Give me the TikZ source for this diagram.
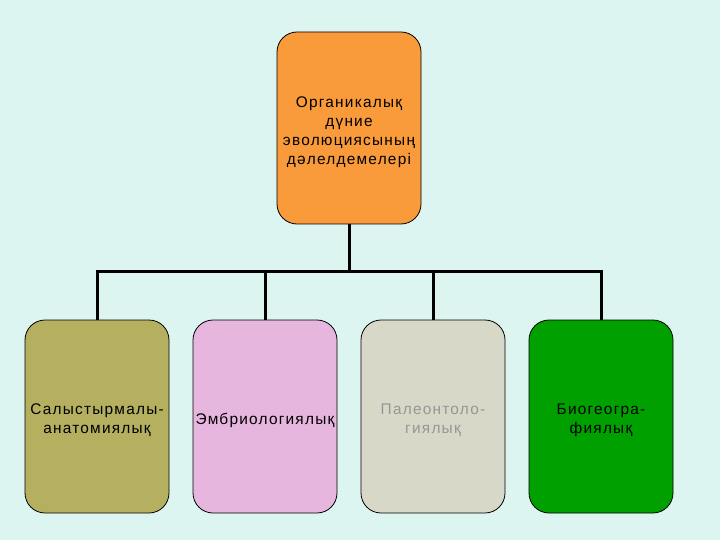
\documentclass[tikz,border=0pt]{standalone}
\usepackage{fontspec}
\setmainfont{Liberation Sans}[LetterSpace=8]
\begin{document}
\begin{tikzpicture}[x=1pt,y=-1pt,
  box/.style={draw=black,line width=0.8pt,rounded corners=20pt,minimum width=144pt,text width=142pt,align=center,font=\fontsize{15.4}{19}\selectfont,inner sep=1pt,execute at begin node={\rule{0pt}{19pt}}},
  conn/.style={line width=3pt}]
\fill[fill={rgb,255:red,221;green,245;blue,240}] (0,0) rectangle (720,540);
\useasboundingbox (0,0) rectangle (720,540);
\node[box,minimum height=192pt,fill={rgb,255:red,249;green,155;blue,58}] (top) at (349,128) {Органикалық\\дүние\\эволюциясының\\дәлелдемелері};
\node[box,minimum height=193pt,fill={rgb,255:red,181;green,176;blue,96}] (b1) at (97,416.5) {Салыстырмалы-\\анатомиялық};
\node[box,minimum height=193pt,fill={rgb,255:red,230;green,182;blue,223}] (b2) at (265,416.5) {Эмбриологиялық};
\node[box,minimum height=193pt,fill={rgb,255:red,216;green,216;blue,200},text={rgb,255:red,150;green,150;blue,150}] (b3) at (433,416.5) {Палеонтоло-\\гиялық};
\node[box,minimum height=193pt,fill={rgb,255:red,0;green,160;blue,0}] (b4) at (601,416.5) {Биогеогра-\\фиялық};
\coordinate (hub) at (349,271);
\draw[conn] (top.south) -- (hub);
\draw[conn] (b1.north) |- (hub) -| (b4.north);
\draw[conn] (b2.north) -- (b2.north |- hub);
\draw[conn] (b3.north) -- (b3.north |- hub);
\end{tikzpicture}
\end{document}
